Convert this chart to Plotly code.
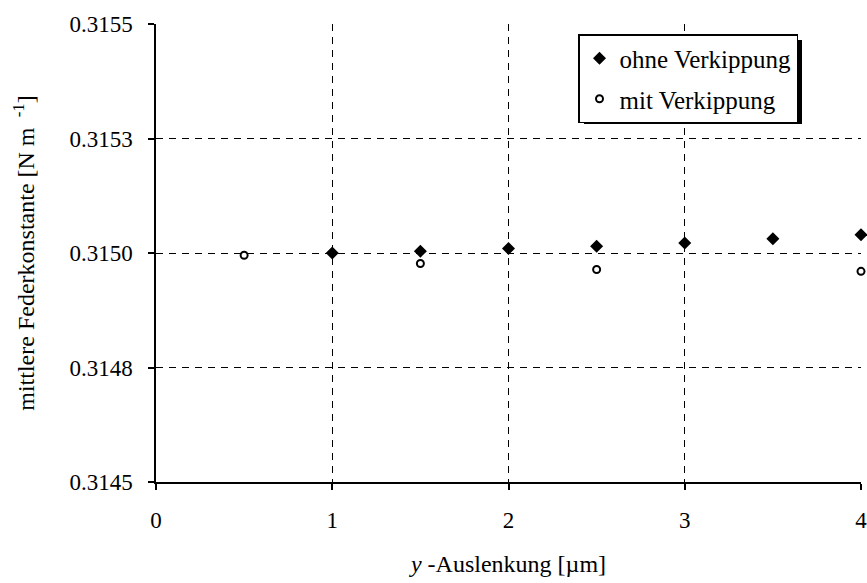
import plotly.graph_objects as go

# Average spring constant versus y-deflection, with and without tilt
x_ohne = [1.0, 1.5, 2.0, 2.5, 3.0, 3.5, 4.0]
k_ohne = [0.315000, 0.315004, 0.315010, 0.315015, 0.315022, 0.315031, 0.315040]

x_mit = [0.5, 1.5, 2.5, 4.0]
k_mit = [0.314995, 0.314977, 0.314964, 0.314960]

y_ticks = [0.3145, 0.31475, 0.3150, 0.31525, 0.3155]
y_ticktext = ["0.3145", "0.3148", "0.3150", "0.3153", "0.3155"]
x_ticks = [0, 1, 2, 3, 4]

FONT = "Liberation Serif, Times New Roman, serif"
TICK_SIZE = 23
TITLE_SIZE = 24
LEGEND_SIZE = 25

# plot area in pixels
L, R, T, B = 156, 861, 24, 482
W, H = 867, 583


def px_to_paper(px, py):
    return (px - L) / (R - L), (B - py) / (B - T)


fig = go.Figure()
fig.add_trace(go.Scatter(
    x=x_ohne, y=k_ohne, mode="markers", name="ohne Verkippung",
    legendgroup="a",
    marker=dict(symbol="diamond", size=10, color="black", line=dict(width=0)),
    cliponaxis=False,
))
fig.add_trace(go.Scatter(
    x=x_mit, y=k_mit, mode="markers", name="mit Verkippung",
    legendgroup="b",
    marker=dict(symbol="circle-open", size=7, color="black", line=dict(width=2)),
    cliponaxis=False,
))

axis_common = dict(
    showline=True, linecolor="black", linewidth=1.5,
    ticks="outside", ticklen=6, tickcolor="black", tickwidth=1.5,
    showgrid=True, gridcolor="black", gridwidth=1, griddash="7px,6px",
    zeroline=False, mirror=False, ticklabeloverflow="allow", automargin=False,
    tickfont=dict(family=FONT, size=TICK_SIZE, color="black"),
)

fig.update_xaxes(
    range=[0, 4], tickvals=x_ticks, ticktext=[str(v) for v in x_ticks],
    title=dict(text="<i>y</i> -Auslenkung [µm]",
               font=dict(family=FONT, size=TITLE_SIZE, color="black"), standoff=23),
    ticklabelstandoff=11,
    **axis_common,
)
fig.update_yaxes(
    range=[0.3145, 0.3155], tickvals=y_ticks, ticktext=y_ticktext,
    title=dict(text="mittlere Federkonstante [N m <sup> -1</sup>]",
               font=dict(family=FONT, size=TITLE_SIZE, color="black"), standoff=28),
    ticklabelstandoff=11,
    **axis_common,
)

# Legend drop shadow
sx0, sy0 = px_to_paper(584, 40)
sx1, sy1 = px_to_paper(802, 124)
fig.add_shape(type="rect", xref="paper", yref="paper",
              x0=sx0, x1=sx1, y0=sy1, y1=sy0,
              fillcolor="black", line=dict(width=0), layer="below")

lx, ly = px_to_paper(578, 34)
fig.update_layout(
    width=W, height=H,
    margin=dict(l=L, r=W - R, t=T, b=H - B, autoexpand=False),
    paper_bgcolor="white", plot_bgcolor="white",
    font=dict(family=FONT, size=TICK_SIZE, color="black"),
    showlegend=True,
    legend=dict(
        x=lx, y=ly, xanchor="left", yanchor="top",
        bgcolor="white", bordercolor="black", borderwidth=1.5,
        font=dict(family=FONT, size=LEGEND_SIZE, color="black"),
        tracegroupgap=5, traceorder="grouped",
    ),
)

fig.write_html("out.html")
